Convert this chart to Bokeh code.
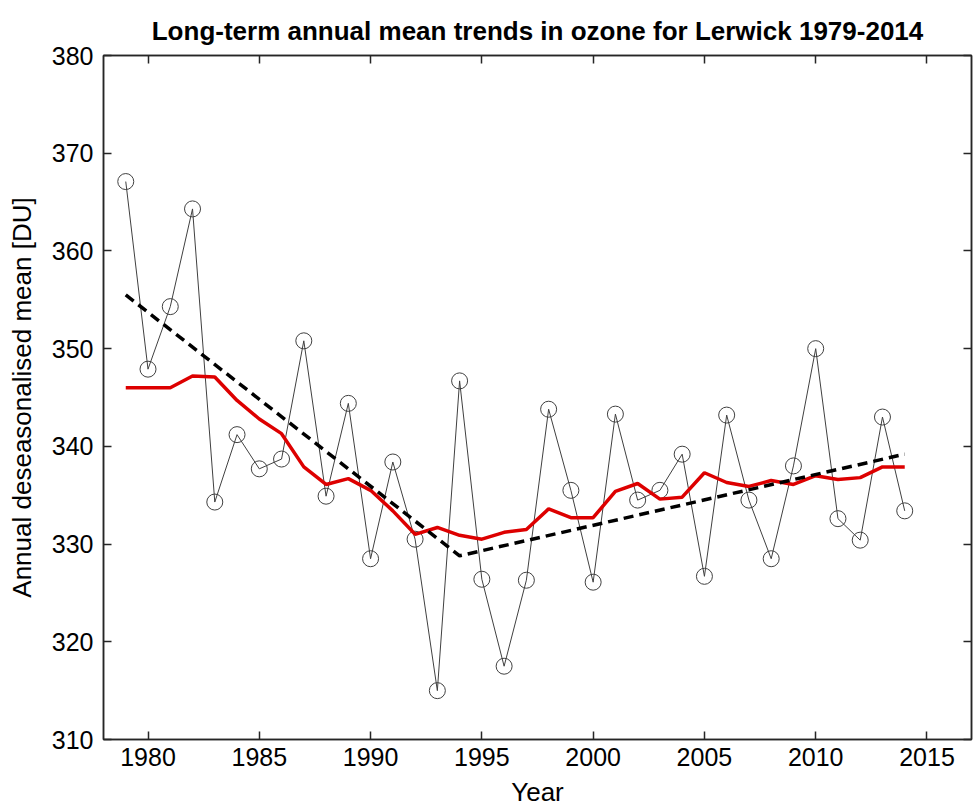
from bokeh.plotting import figure
from bokeh.models import LinearAxis, Range1d, FixedTicker
from bokeh.embed import file_html
from bokeh.resources import INLINE

years = list(range(1979, 2015))
ozone = [367.1, 347.9, 354.3, 364.3, 334.3, 341.2, 337.7, 338.7, 350.8, 334.9,
         344.4, 328.5, 338.4, 330.5, 315.0, 346.7, 326.4, 317.5, 326.3, 343.8,
         335.5, 326.1, 343.3, 334.5, 335.5, 339.2, 326.7, 343.2, 334.5, 328.5,
         338.0, 350.0, 332.6, 330.4, 343.0, 333.4]
smoothed = [346.0, 346.0, 346.0, 347.2, 347.1, 344.7, 342.8, 341.3, 337.9, 336.1,
            336.7, 335.5, 333.4, 331.0, 331.7, 330.9, 330.5, 331.2, 331.5, 333.6,
            332.7, 332.7, 335.4, 336.2, 334.6, 334.8, 337.3, 336.3, 335.9, 336.5,
            336.1, 337.0, 336.6, 336.8, 337.9, 337.9]
trend_years = [1979, 1994, 2014]
trend_vals = [355.5, 328.8, 339.2]
xticks = [1980, 1985, 1990, 1995, 2000, 2005, 2010, 2015]
yticks = [310, 320, 330, 340, 350, 360, 370, 380]

FONT = "Liberation Sans"
AX = "#262626"

p = figure(width=975, height=809, output_backend="svg", toolbar_location=None,
           x_range=Range1d(1978, 2017), y_range=Range1d(310, 380),
           min_border_left=103, min_border_right=4, min_border_top=55, min_border_bottom=70,
           x_axis_label="Year", y_axis_label="Annual deseasonalised mean [DU]")
p.background_fill_color = "white"
p.border_fill_color = "white"
p.outline_line_color = AX
p.outline_line_width = 1.5
p.grid.visible = False

p.title.text = "Long-term annual mean trends in ozone for Lerwick 1979-2014"
p.title.align = "center"
p.title.text_font = FONT
p.title.text_font_size = "26px"
p.title.text_font_style = "bold"
p.title.text_color = "black"
p.title.standoff = 20

def style(ax, labels=True, ticks=None):
    ax.axis_line_color = AX
    ax.axis_line_width = 1.5
    ax.major_tick_line_color = AX
    ax.major_tick_line_width = 1.5
    ax.major_tick_in = 8
    ax.major_tick_out = 0
    ax.minor_tick_line_color = None
    if labels:
        ax.major_label_text_font = FONT
        ax.major_label_text_font_size = "25px"
        ax.major_label_text_color = "black"
        ax.axis_label_text_font = FONT
        ax.axis_label_text_font_size = "26px"
        ax.axis_label_text_font_style = "normal"
        ax.axis_label_text_color = "black"
    else:
        ax.major_label_overrides = {t: "" for t in ticks}
        ax.major_label_text_font_size = "1px"
        ax.major_label_standoff = 0

p.xaxis.ticker = FixedTicker(ticks=xticks)
p.yaxis.ticker = FixedTicker(ticks=yticks)
style(p.xaxis[0])
style(p.yaxis[0])
p.xaxis[0].major_label_standoff = 8
p.xaxis[0].axis_label_standoff = 8
p.yaxis[0].major_label_standoff = 10
p.yaxis[0].axis_label_standoff = 12

top = LinearAxis(ticker=FixedTicker(ticks=xticks))
style(top, labels=False, ticks=xticks)
p.add_layout(top, "above")
right = LinearAxis(ticker=FixedTicker(ticks=yticks))
style(right, labels=False, ticks=yticks)
p.add_layout(right, "right")

p.line(years, ozone, line_color="#404040", line_width=1)
p.scatter(years, ozone, marker="circle", size=16, fill_color=None,
          line_color="#404040", line_width=1)
p.line(years, smoothed, line_color="#dd0000", line_width=3.5)
p.line(trend_years, trend_vals, line_color="black", line_width=3.5, line_dash="10 6")

open("out.html", "w").write(file_html(p, INLINE))
